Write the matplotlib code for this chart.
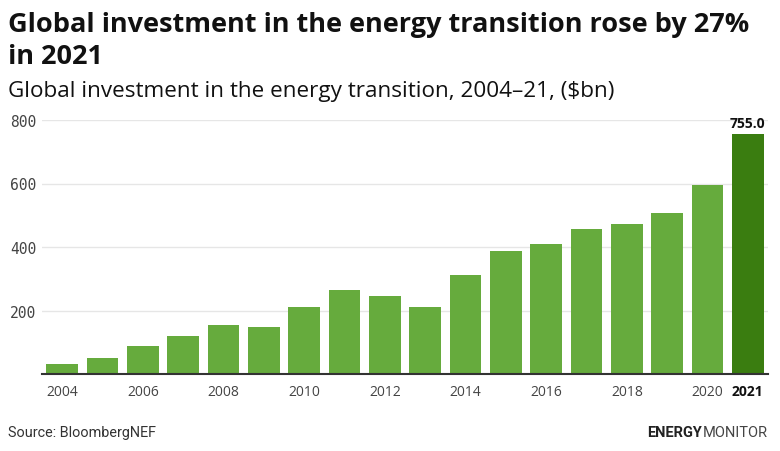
import matplotlib
matplotlib.use("Agg")
import matplotlib.pyplot as plt
import numpy as np

# data ($bn)
years = list(range(2004, 2022))
investment = [31, 50, 88, 119, 154, 149, 211, 263, 246, 211, 311, 386, 408, 456, 472, 506, 594, 755.0]
tick_years = [2004, 2006, 2008, 2010, 2012, 2014, 2016, 2018, 2020, 2021]
yticks = [200, 400, 600, 800]

W, H = 780, 452
light_green = "#66ab3d"
dark_green = "#3a7d10"


def px(x, y):
    # pixel coords (from top-left) -> figure fraction
    return x / W, 1 - y / H


fig = plt.figure(figsize=(W / 100, H / 100), dpi=100)
fig.patch.set_facecolor("white")

# titles
fig.text(*px(8, 32), "Global investment in the energy transition rose by 27%",
         fontsize=19.5, fontweight="bold", family="Open Sans", color="#111111", va="baseline")
fig.text(*px(8, 64), "in 2021",
         fontsize=19.5, fontweight="bold", family="Open Sans", color="#111111", va="baseline")
fig.text(*px(8, 97), "Global investment in the energy transition, 2004\u201321, ($bn)",
         fontsize=16.2, family="Open Sans", color="#111111", va="baseline")

# axes
left, right = px(42, 0)[0], px(768, 0)[0]
bottom = px(0, 375)[1]
top = px(0, 121)[1]
ax = fig.add_axes([left, bottom, right - left, top - bottom])

x = np.arange(len(years))
colors = [light_green] * (len(years) - 1) + [dark_green]
ax.bar(x, investment, width=0.79, color=colors, edgecolor="none", zorder=2)

ax.set_xlim(-0.5, len(years) - 0.5)
ax.set_ylim(0, 800)
ax.set_yticks(yticks)
ax.grid(axis="y", color="#e6e6e6", linewidth=1, zorder=0)
for s in ["top", "right", "left"]:
    ax.spines[s].set_visible(False)
ax.spines["bottom"].set_color("#333333")
ax.spines["bottom"].set_linewidth(1.5)
ax.spines["bottom"].set_zorder(3)

ax.tick_params(axis="y", length=0, pad=4)
ax.tick_params(axis="x", length=0, pad=7)
for lab in ax.get_yticklabels():
    lab.set_family("DejaVu Sans Mono")
    lab.set_fontsize(10.5)
    lab.set_color("#444444")

tick_pos = [years.index(y) for y in tick_years]
ax.set_xticks(tick_pos)
ax.set_xticklabels([str(y) for y in tick_years], family="Open Sans", fontsize=10, color="#444444")
last = ax.get_xticklabels()[-1]
last.set_fontweight("bold")
last.set_color("#111111")

# value label on the last bar
ax.text(x[-1], investment[-1] + 12, f"{investment[-1]:.1f}", ha="center", va="bottom",
        fontsize=10, fontweight="bold", family="Open Sans", color="#111111", clip_on=False)

# footer
fig.text(*px(8, 437), "Source: BloombergNEF", fontsize=10.4, family="Roboto",
         color="#333333", va="baseline")
mon = fig.text(*px(768, 437), "MONITOR", fontsize=10.5, family="Roboto",
               color="#444444", va="baseline", ha="right")
fig.canvas.draw()
mon_left = mon.get_window_extent().x0
fig.text(mon_left / W - 1 / W, px(0, 437)[1], "ENERGY", fontsize=10.5, family="Roboto",
         fontweight="bold", color="#222222", va="baseline", ha="right")

fig.savefig("out.png", dpi=100, facecolor="white")
